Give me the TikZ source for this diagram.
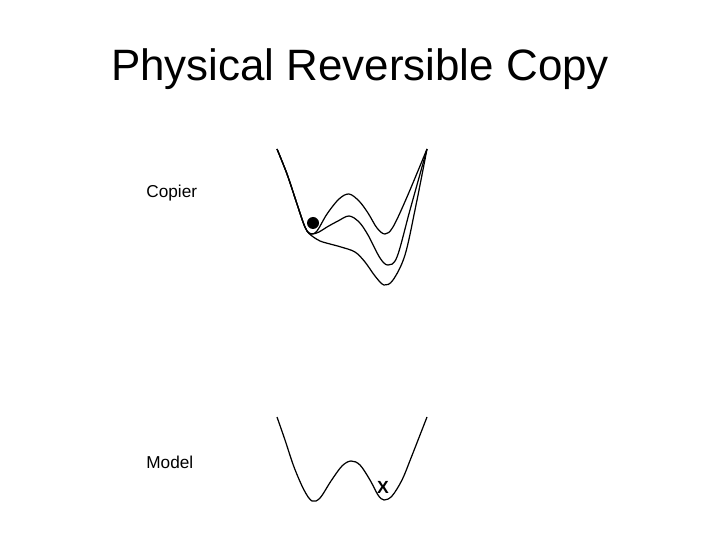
\documentclass[tikz,border=0pt]{standalone}
\usepackage{fontspec}
\setmainfont{Liberation Sans}
\begin{document}
\begin{tikzpicture}[x=0.02cm,y=-0.02cm]
    \tikzset{
        well/.style={black, line width=0.7pt, smooth, tension=0.55},
        lbl/.style={anchor=west, inner sep=0pt, font=\fontsize{9.8}{11}\selectfont}
    }
    \useasboundingbox (0,0) rectangle (720,540);
    
    \node (title) at (360,69) {\fontsize{25}{30}\selectfont Physical Reversible Copy};
    
    % copier potentials
    \draw[well] plot coordinates {(277,149) (287,174) (297,204) (303,222) (307,231) (311,234) (317,231) (327,214) (339,199) (349,194) (359,201) (368,213) (377,228) (385,234) (393,227) (407,197) (427,149)};
    \draw[well] plot coordinates {(277,149) (287,174) (297,204) (303,222) (307,231) (312,234) (319,232) (327,227) (338,221) (349,216) (359,222) (368,235) (380,258) (388,265) (397,257) (410,210) (427,149)};
    \draw[well] plot coordinates {(277,149) (287,174) (297,204) (303,222) (307,231) (312,236) (320,241) (330,244) (341,247) (355,252) (365,262) (375,276) (384,285) (393,280) (405,255) (416,205) (427,149)};
    \fill (313,223) circle (6);
    \node[lbl] (copier) at (146,193) {Copier};
    
    % model potential
    \draw[well] plot coordinates {(277,417) (285,440) (294,467) (304,490) (312,501) (320,498) (331,481) (342,466) (351,461) (360,465) (370,480) (378,495) (384,500) (392,496) (402,480) (411,458) (427,417)};
    \node[lbl] (model) at (146,462) {Model};
    \node[inner sep=0pt, font=\bfseries\fontsize{10}{11}\selectfont] (xmark) at (383,487) {X};
\end{tikzpicture}
\end{document}
